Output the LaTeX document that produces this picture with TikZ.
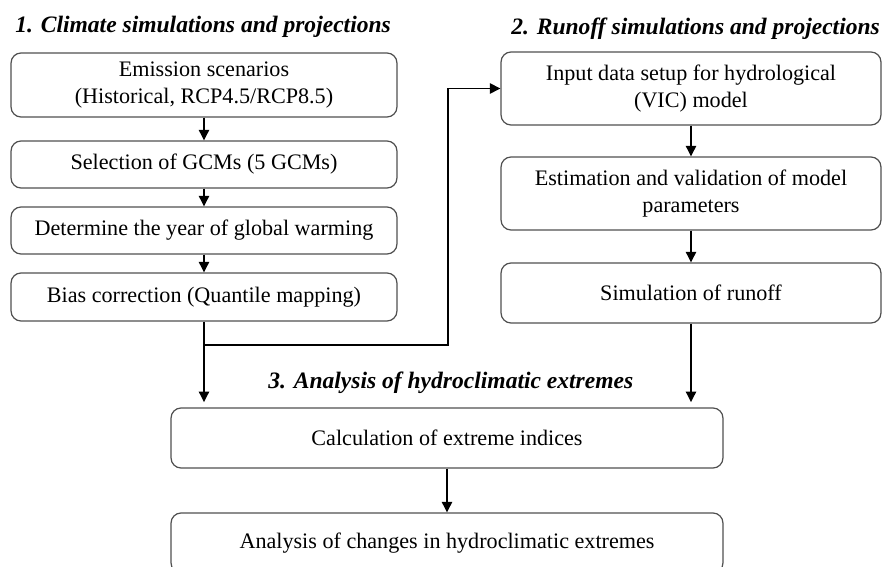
\documentclass[tikz,border=0pt]{standalone}
\usepackage{fontspec}
\setmainfont{Liberation Serif}
\usepackage{tikz}
\usetikzlibrary{arrows.meta, positioning}
\definecolor{colorBox}{HTML}{505050}

\begin{document}
\begin{tikzpicture}[x=0.02cm, y=-0.02cm,
        stepbox/.style={draw=colorBox, line width=0.7pt, rounded corners=0.2cm,
            align=center, inner sep=2pt, font=\fontsize{12.6}{15.3}\selectfont},
        leftbox/.style={stepbox, minimum width=7.72cm},
        rightbox/.style={stepbox, minimum width=7.6cm, minimum height=1.46cm},
        lowbox/.style={stepbox, minimum width=11.04cm, minimum height=1.2cm},
        heading/.style={anchor=base west, inner sep=0pt,
            font=\fontsize{13.4}{16}\selectfont\bfseries\itshape},
        link/.style={line width=1.1pt},
        arr/.style={link, -{Triangle[length=6pt, width=5.8pt]}}]
        \clip (0,0) rectangle (882,567);
        % headings
        \node[heading] (head1) at (15,33) {1. Climate simulations and projections};
        \node[heading] (head2) at (511,35) {2. Runoff simulations and projections};
        \node[heading] (head3) at (268,388) {3. Analysis of hydroclimatic extremes};
        % climate column
        \node[leftbox, minimum height=1.28cm] (emis) at (204,85) {Emission scenarios\\(Historical, RCP4.5/RCP8.5)};
        \node[leftbox, minimum height=0.94cm] (gcm) at (204,164.5) {Selection of GCMs (5 GCMs)};
        \node[leftbox, minimum height=0.94cm] (year) at (204,230.5) {Determine the year of global warming};
        \node[leftbox, minimum height=0.96cm] (bias) at (204,297) {Bias correction (Quantile mapping)};
        % runoff column
        \node[rightbox] (input) at (691,88.5) {Input data setup for hydrological\\(VIC) model};
        \node[rightbox] (estim) at (691,193.5) {Estimation and validation of model\\parameters};
        \node[rightbox, minimum height=1.2cm] (sim) at (691,293) {Simulation of runoff};
        % extremes
        \node[lowbox] (calc) at (447,438) {Calculation of extreme indices};
        \node[lowbox] (chg) at (447,543) {Analysis of changes in hydroclimatic extremes};
        \coordinate (split) at (204,345);
        \coordinate (bend) at (448,345);
        \draw[arr] (emis) -- (gcm);
        \draw[arr] (gcm) -- (year);
        \draw[arr] (year) -- (bias);
        \draw[link] (bias) -- (split);
        \draw[arr] (split) -- (bend) |- (input.west);
        \draw[arr, shorten >=3pt] (split) -- (split |- calc.north);
        \draw[arr] (input) -- (estim);
        \draw[arr] (estim) -- (sim);
        \draw[arr, shorten >=3pt] (sim) -- (sim.south |- calc.north);
        \draw[arr] (calc) -- (chg);
\end{tikzpicture}
\end{document}
